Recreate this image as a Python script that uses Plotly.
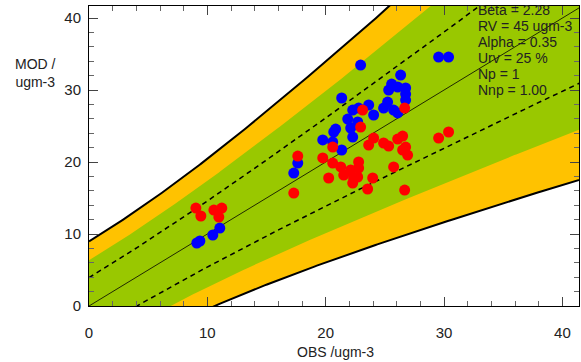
import numpy as np
import plotly.graph_objects as go

# ---- parameters shown on the chart ----
beta = 2.28
rv = 45.0
alpha = 0.35
urv = 0.25
np_val = 1
nnp_val = 1.00

# ---- observed / modelled values (two groups) ----
blue_obs = [11.05, 10.46, 9.37, 9.11, 17.64, 17.30, 22.95, 29.54, 30.38, 21.35,
            22.28, 21.86, 20.84, 22.11, 22.70, 19.75, 20.59, 20.68, 21.35, 22.28,
            26.33, 25.57, 25.32, 26.08, 26.75, 26.75, 26.75, 23.63, 22.78, 24.05,
            24.89, 25.23, 25.74, 26.08]
blue_mod = [10.83, 9.86, 9.03, 8.75, 19.86, 18.47, 33.47, 34.58, 34.58, 28.89,
            27.22, 25.97, 24.58, 24.72, 25.56, 23.06, 22.78, 24.17, 21.67, 23.47,
            32.08, 30.83, 30.00, 30.42, 30.28, 29.44, 28.61, 27.92, 27.50, 26.53,
            27.50, 28.33, 27.22, 26.81]

red_obs = [9.03, 9.45, 10.55, 11.22, 10.97, 17.64, 17.30, 19.75, 20.59, 21.27,
           20.25, 21.52, 22.11, 22.36, 22.28, 22.78, 20.59, 23.12, 22.95, 26.67,
           24.05, 23.63, 24.89, 25.32, 26.08, 26.50, 26.75, 26.50, 26.92, 29.54,
           30.38, 22.78, 22.70, 23.97, 25.74, 23.54, 26.67]
red_mod = [13.61, 12.50, 13.33, 13.61, 12.36, 20.83, 15.69, 20.56, 19.86, 19.31,
           17.78, 18.19, 18.89, 17.78, 17.08, 19.17, 22.08, 27.22, 24.86, 27.50,
           23.33, 22.36, 22.64, 22.22, 23.19, 23.61, 22.08, 21.67, 20.97, 23.33,
           24.17, 20.00, 17.92, 17.78, 19.31, 16.25, 16.11]

tick_vals = [0, 10, 20, 30, 40]
tick_text = ["0", "10", "20", "30", "40"]

info_lines = [f"Beta = {beta:.2f}", f"RV = {rv:.0f} ugm-3", f"Alpha = {alpha:.2f}",
              f"Urv = {urv*100:.0f} %", f"Np = {np_val}", f"Nnp = {nnp_val:.2f}"]

X_MAX = 41.4
Y_MAX = 41.67

GREEN = "#99C800"
ORANGE = "#FFC200"

o = np.linspace(0, 60, 400)
u = urv * np.sqrt((1 - alpha**2) * o**2 + alpha**2 * rv**2)

fig = go.Figure()

def band(k, color):
    up = o + k * u
    lo = o - k * u
    xs = np.concatenate([o, o[::-1]])
    ys = np.concatenate([up, lo[::-1]])
    fig.add_trace(go.Scatter(x=xs, y=ys, fill="toself", fillcolor=color,
                             line=dict(width=0), mode="lines", hoverinfo="skip",
                             showlegend=False))

band(beta, ORANGE)
band(beta / np.sqrt(2), GREEN)

for sgn in (1, -1):
    fig.add_trace(go.Scatter(x=o, y=o + sgn * beta * u, mode="lines",
                             line=dict(color="black", width=2), showlegend=False))
    fig.add_trace(go.Scatter(x=o, y=o + sgn * u, mode="lines",
                             line=dict(color="black", width=1.5, dash="5px,4px"),
                             showlegend=False))
fig.add_trace(go.Scatter(x=o, y=o, mode="lines", line=dict(color="black", width=0.8),
                         showlegend=False))

fig.add_trace(go.Scatter(x=blue_obs, y=blue_mod, mode="markers",
                         marker=dict(color="#0000FF", size=11, line=dict(width=0)),
                         showlegend=False))
fig.add_trace(go.Scatter(x=red_obs, y=red_mod, mode="markers",
                         marker=dict(color="#FF0000", size=11, line=dict(width=0)),
                         showlegend=False))

axis_common = dict(
    showgrid=False, zeroline=False, showline=True, linecolor="black", linewidth=1,
    mirror="allticks", ticks="inside", ticklen=9, tickcolor="#444", tickwidth=1,
    tickvals=tick_vals, ticktext=tick_text,
    tickfont=dict(family="Liberation Sans, Arial", size=15, color="#222"),
    minor=dict(ticks="inside", ticklen=5, tickcolor="#666", dtick=2, tick0=0),
)

fig.update_xaxes(range=[0, X_MAX], ticklabelstandoff=13, **axis_common)
fig.update_yaxes(range=[0, Y_MAX], ticklabelstandoff=4, **axis_common)

y_pos = [41.1, 38.9, 36.7, 34.4, 32.2, 30.0]
for txt, yy in zip(info_lines, y_pos):
    fig.add_annotation(x=32.7, y=yy, xref="x", yref="y", text=txt, showarrow=False,
                       xanchor="left", yanchor="middle",
                       font=dict(family="Liberation Sans, Arial", size=14, color="#222"))

fig.add_annotation(x=35, y=73, xref="paper", yref="paper", text="", showarrow=False)
fig.layout.annotations = fig.layout.annotations[:-1]

W, H = 581, 362
ML, MR, MT, MB = 89, 2, 6, 56
pw, ph = W - ML - MR, H - MT - MB

def px2paper(px, py):
    return (px - ML) / pw, 1 - (py - MT) / ph

ax, ay = px2paper(35, 73)
fig.add_annotation(x=ax, y=ay, xref="paper", yref="paper", text="MOD /<br>ugm-3",
                   showarrow=False, xanchor="center", yanchor="middle", align="center",
                   font=dict(family="Liberation Sans, Arial", size=14, color="#222"))
bx, by = px2paper(335, 352)
fig.add_annotation(x=bx, y=by, xref="paper", yref="paper", text="OBS /ugm-3",
                   showarrow=False, xanchor="center", yanchor="middle",
                   font=dict(family="Liberation Sans, Arial", size=14, color="#222"))

fig.update_layout(width=W, height=H, margin=dict(l=ML, r=MR, t=MT, b=MB),
                  plot_bgcolor="white", paper_bgcolor="white", showlegend=False)

fig.write_html("out.html")
